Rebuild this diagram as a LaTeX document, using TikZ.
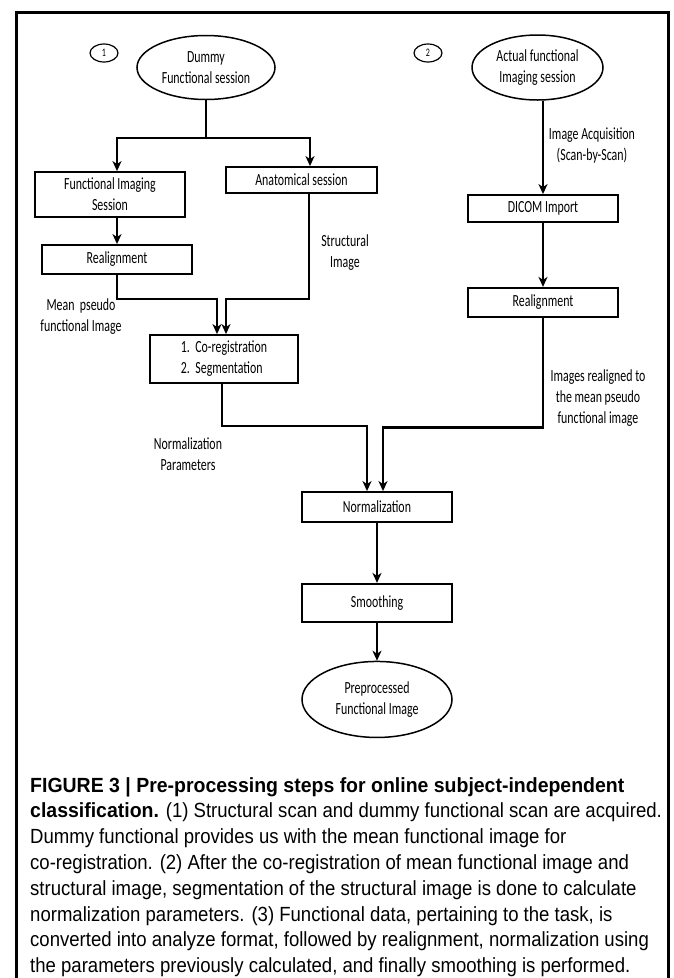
\documentclass[tikz,border=0pt]{standalone}
\usepackage{fontspec}
\setmainfont{Liberation Sans}[FakeStretch=0.905, BoldFeatures={FakeStretch=0.95}]
\newfontfamily\diagfont{Carlito}[FakeStretch=0.70]
\usepackage{tikz}
\usetikzlibrary{arrows.meta,positioning,shapes.geometric}

\begin{document}
\begin{tikzpicture}[
  x=1pt, y=-1pt,
  every node/.style={font=\diagfont\fontsize{17}{21}\selectfont},
  procbox/.style={rectangle, draw, line width=1.8pt, minimum width=150pt,
               inner sep=0pt, align=center},
  session/.style={ellipse, draw, line width=1.5pt, inner sep=0pt, align=center},
  stepnum/.style={ellipse, draw, line width=1.2pt, minimum width=28pt,
               minimum height=18pt, inner sep=0pt,
               font=\diagfont\fontsize{11.5}{13}\selectfont},
  note/.style={align=center, inner sep=0pt},
  link/.style={line width=2.6pt},
  arrow/.style={-{Stealth[length=10pt,width=9pt,inset=3pt]}, line width=2.6pt},
]
\useasboundingbox (0,0) rectangle (673,978);
\draw[line width=3pt] (16,995) |- (668,12) -- (668,995);

% two starting sessions
\node[stepnum] (n1) at (104,53) {1};
\node[session, minimum width=138pt, minimum height=64pt] (dummy) at (206,67.5) {Dummy\\Functional session};
\node[stepnum] (n2) at (428,53) {2};
\node[session, minimum width=131pt, minimum height=65pt] (actual) at (537.5,67.5) {Actual functional\\Imaging session};

\node[procbox, minimum height=45pt] (fis) at (110,194.5) {Functional Imaging\\Session};
\node[procbox, minimum width=151pt, minimum height=26pt] (anat) at (301.5,180) {Anatomical session};
\node[procbox, minimum height=29pt] (real1) at (117,259.5) {Realignment};
\node[procbox, minimum width=148pt, minimum height=48pt, align=left] (coreg) at (224,359) {1.~~Co-registration\\2.~~Segmentation};

\node[procbox, minimum height=27pt] (dicom) at (543,208.5) {DICOM Import};
\node[procbox, minimum height=29pt, below=64pt of dicom] (real2) {Realignment};

\node[procbox, minimum height=30pt] (norm) at (377,507) {Normalization};
\node[procbox, minimum height=38pt, below=60pt of norm] (smooth) {Smoothing};
\node[session, minimum width=150pt, minimum height=76pt, below=38pt of smooth] (final) {Preprocessed\\Functional Image};

% connector labels
\node[note] (lmean) at (81,317) {Mean~ pseudo\\functional Image};
\node[note] (lstruct) at (345,253) {Structural\\Image};
\node[note] (lacq) at (592,145) {Image Acquisition\\(Scan-by-Scan)};
\node[note] (lnormp) at (188,454) {Normalization\\Parameters};
\node[note] (lrealigned) at (598,398) {Images realigned to\\the mean pseudo\\functional image};

\coordinate (split) at (206,138);
\draw[link] (dummy.south) -- (split);
\draw[arrow] (split) -| ([xshift=7pt]fis.north);
\draw[arrow] (split) -| ([xshift=8.5pt]anat.north);
\draw[arrow] (fis.south -| real1.north) -- (real1.north);
\draw[arrow] (real1.south) -- ++(0,24) -| ([xshift=-7pt]coreg.north);
\draw[arrow] ([xshift=7.5pt]anat.south) -- ++(0,105) -| ([xshift=2pt]coreg.north);
\draw[arrow] (actual.south -| dicom.north) -- (dicom.north);
\draw[arrow] ([xshift=-2pt]coreg.south) -- ++(0,42) -| ([xshift=-10pt]norm.north);
\draw[arrow] (real2.south) -- ++(0,110) -| ([xshift=6pt]norm.north);

\foreach \a/\b in {dicom/real2, norm/smooth, smooth/final} {
  \draw[arrow] (\a.south) -- (\b.north);
}

\node[anchor=north west, inner sep=0pt, align=left,
      font=\rmfamily\fontsize{20.5}{25.8}\selectfont] (caption) at (30,777)
  {\textbf{FIGURE 3 | Pre-processing steps for online subject-independent}\\
   \textbf{classification.} (1) Structural scan and dummy functional scan are acquired.\\
   Dummy functional provides us with the mean functional image for\\
   co-registration. (2) After the co-registration of mean functional image and\\
   structural image, segmentation of the structural image is done to calculate\\
   normalization parameters. (3) Functional data, pertaining to the task, is\\
   converted into analyze format, followed by realignment, normalization using\\
   the parameters previously calculated, and finally smoothing is performed.};

\end{tikzpicture}
\end{document}
